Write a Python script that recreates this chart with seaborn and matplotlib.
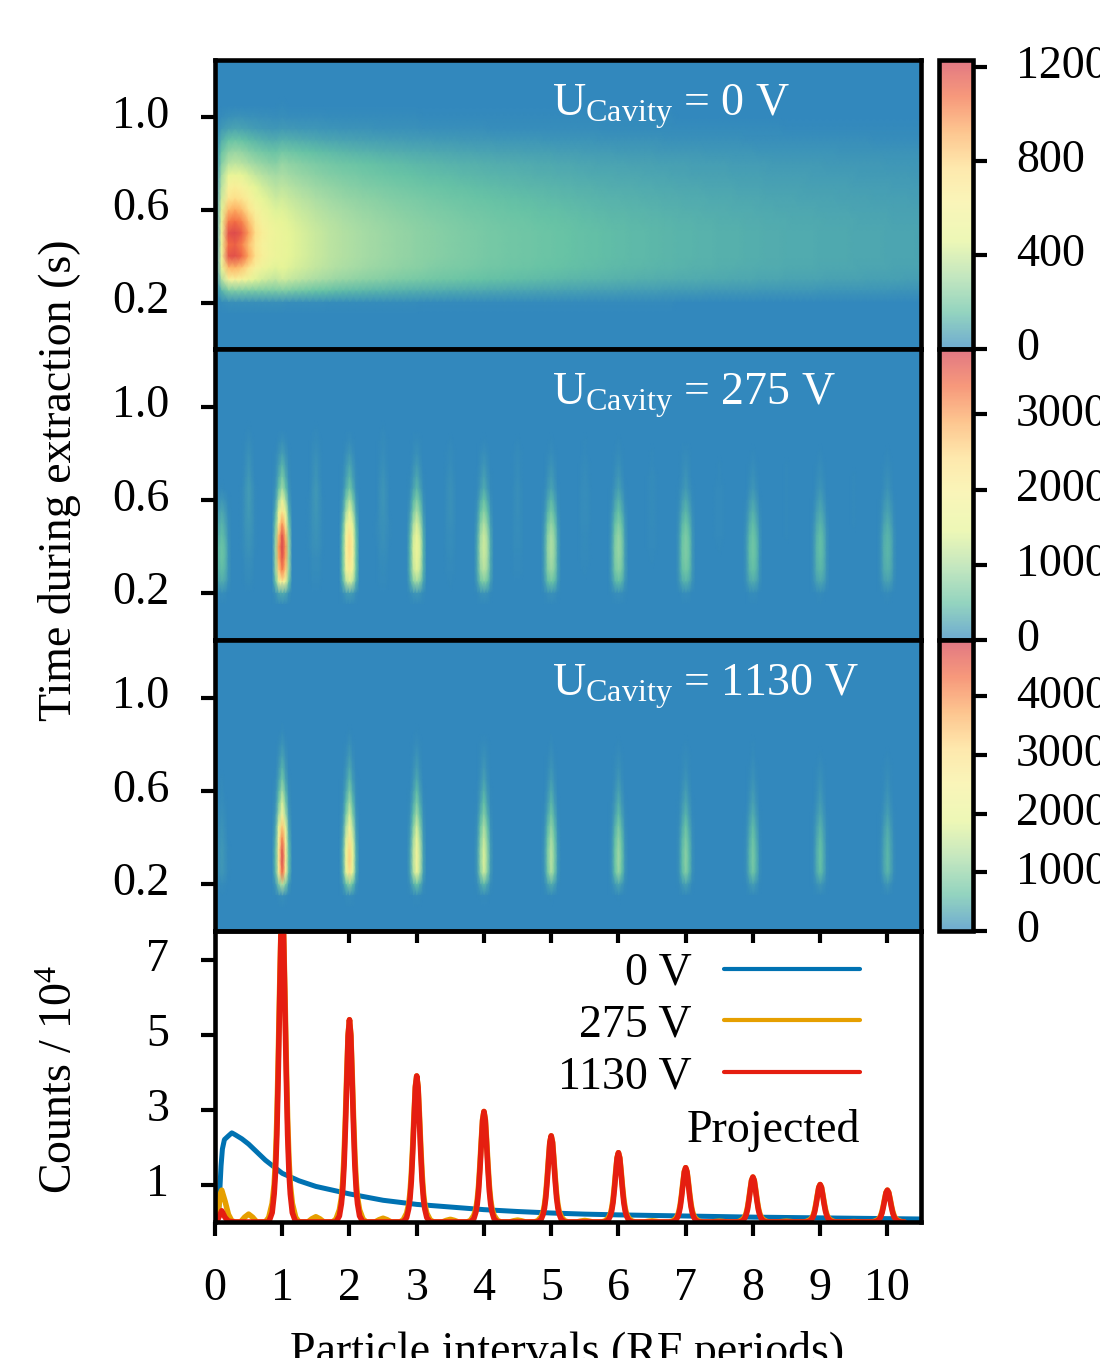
import numpy as np
import matplotlib
matplotlib.use("Agg")
import matplotlib.pyplot as plt
import seaborn as sns
from matplotlib.colors import LinearSegmentedColormap
from matplotlib.transforms import ScaledTranslation

OUTPUT_FILE = "out.png"
FIG_W, FIG_H = 1100, 1358
FONT = 33
LW = 3.3

# heat map grids: rows run from t=1.25 down to t=0 in steps of 0.05
T_STEP = 0.05
T_TOP = 1.25
HEAT_COLORS = ["#3288BD", "#66C2A5", "#ABDDA4", "#E6F598", "#F7F29C",
               "#FEE08B", "#FDAE61", "#F46D43", "#D53E4F"]

# 0 V panel, columns every 0.1 periods
far_time = [0, 0, 0, 0, 0.01, 0.04, 0.10, 0.23, 0.38, 0.53, 0.62, 0.72, 0.81,
            0.89, 0.96, 1, 1, 1, 0.95, 0.80, 0.42, 0.04, 0, 0, 0, 0]
far_x = [0, 0, 0, 0, 0, 0, 0, 0, 0, 0,
         500, 470, 445, 425, 405, 385, 370, 355, 342, 330,
         320, 310, 300, 292, 285, 278, 270, 263, 256, 250,
         244, 238, 232, 227, 222, 217, 212, 208, 204, 200,
         196, 192, 188, 185, 182, 179, 176, 173, 170, 167,
         165, 162, 159, 156, 153, 150, 147, 145, 142, 140,
         138, 136, 134, 132, 130, 128, 126, 124, 122, 120,
         118, 116, 115, 113, 112, 110, 109, 107, 106, 104,
         103, 101, 100, 99, 97, 96, 95, 94, 93, 92,
         91, 90, 89, 88, 87, 86, 85, 84, 83, 82,
         81, 80, 79, 78, 77, 76]
# x = 0 .. 0.9, t = 1.0 .. 0.2
near_table = [
    [0, 15, 25, 30, 30, 28, 25, 22, 20, 18],
    [0, 50, 70, 80, 75, 65, 55, 50, 46, 43],
    [0, 110, 160, 170, 160, 140, 125, 115, 105, 100],
    [0, 170, 250, 270, 255, 230, 205, 190, 175, 165],
    [0, 230, 340, 360, 345, 310, 280, 260, 245, 230],
    [0, 300, 480, 500, 470, 420, 370, 340, 315, 295],
    [0, 350, 620, 650, 610, 530, 460, 410, 375, 345],
    [0, 400, 720, 770, 720, 630, 530, 470, 430, 390],
    [0, 450, 880, 930, 870, 740, 620, 540, 490, 440],
    [0, 500, 1040, 1080, 1020, 870, 710, 600, 540, 490],
    [0, 560, 1160, 1190, 1120, 960, 770, 650, 580, 530],
    [0, 530, 1080, 1110, 1030, 870, 720, 620, 560, 510],
    [0, 560, 1150, 1170, 1100, 930, 760, 640, 570, 520],
    [0, 480, 880, 900, 850, 740, 620, 540, 490, 450],
    [0, 330, 600, 620, 590, 520, 450, 410, 385, 365],
    [0, 120, 200, 210, 205, 200, 200, 200, 200, 200],
    [0, 10, 20, 20, 20, 20, 20, 20, 20, 20],
]

# 275 V panel, columns every 0.05 periods
time_275 = [0, 0, 0, 0, 0, 0, 0, 0, 0.02, 0.05, 0.10, 0.16, 0.24, 0.42, 0.60,
            0.80, 0.97, 1, 0.96, 0.86, 0.55, 0.08, 0, 0, 0, 0]
ghost_275 = [0, 0, 0, 0, 0, 0, 0.05, 0.15, 0.3, 0.45, 0.65, 0.85, 1, 1, 0.9,
             0.8, 0.7, 0.55, 0.4, 0.3, 0.2, 0.03, 0, 0, 0, 0]
strip_275 = [0, 0, 0, 0, 0, 0, 0, 0, 0, 0, 0, 0, 0.05, 0.25, 0.5, 0.7, 0.85, 1,
             1, 0.85, 0.6, 0.1, 0, 0, 0, 0]
side1_275 = [0.5] * 12 + [0.55, 0.6, 0.65, 0.7, 0.75, 0.8, 0.8, 0.8, 0.8,
                          0.8, 0.8, 0.8, 0.8, 0.8]
side2_275 = [0.08] * 12 + [0.1, 0.12, 0.15, 0.18, 0.2, 0.22, 0.22, 0.25, 0.25,
                           0.25, 0.25, 0.25, 0.25, 0.25]
peaks_275 = [3800, 2450, 1650, 1250, 1000, 850, 680, 560, 470, 400]
ghost_x_275 = [0.5, 1.5, 2.5, 3.5, 4.5, 5.5, 6.5, 7.5, 8.5, 9.5]
ghost_h_275 = [170, 140, 110, 85, 70, 55, 40, 30, 25, 20]
strip_x_275 = [0.1]
strip_h_275 = [520]

# 1130 V panel
time_1130 = [0, 0, 0, 0, 0, 0, 0, 0, 0.01, 0.03, 0.06, 0.10, 0.16, 0.25, 0.36,
             0.50, 0.70, 0.85, 0.97, 1, 0.92, 0.30, 0.02, 0, 0, 0]
side1_1130 = [0.38] * 12 + [0.4, 0.42, 0.46, 0.5, 0.54, 0.58, 0.6, 0.6, 0.6,
                            0.6, 0.6, 0.6, 0.6, 0.6]
side2_1130 = [0.03] * 12 + [0.04, 0.05, 0.06, 0.08, 0.09, 0.1, 0.12, 0.12,
                            0.12, 0.12, 0.12, 0.12, 0.12, 0.12]
peaks_1130 = [4800, 3300, 2300, 1750, 1400, 1150, 950, 780, 640, 530]
strip_x_1130 = [0.1]
strip_h_1130 = [180]

vmax_values = [1230, 3870, 4960]
cbar_ticks = [[0, 400, 800, 1200], [0, 1000, 2000, 3000], [0, 1000, 2000, 3000, 4000]]
panel_labels = ["0 V", "275 V", "1130 V"]
time_ticks = [1.0, 0.6, 0.2]

# projected counts / 10^4
pulse_offsets = [-0.25, -0.2, -0.15, -0.12, -0.1, -0.08, -0.06, -0.04, -0.02, 0,
                 0.02, 0.04, 0.06, 0.08, 0.1, 0.12, 0.15, 0.2, 0.25]
red_shape = [0, 0, 0.03, 0.09, 0.16, 0.28, 0.47, 0.7, 0.92, 1,
             0.92, 0.7, 0.47, 0.28, 0.16, 0.09, 0.03, 0, 0]
orange_shape = [0, 0.015, 0.06, 0.12, 0.2, 0.33, 0.52, 0.74, 0.93, 1,
                0.93, 0.74, 0.52, 0.33, 0.2, 0.12, 0.06, 0.015, 0]
peak_heights = [8.3, 5.4, 3.9, 2.95, 2.3, 1.85, 1.45, 1.2, 1.0, 0.85]
bump_offsets = [-0.12, -0.06, 0, 0.06, 0.12]
bump_shape = [0, 0.6, 1, 0.6, 0]
bump_heights = [0.21, 0.14, 0.10, 0.07, 0.05, 0.04, 0.03, 0.02, 0.02, 0.01]
orange_start_x = [0, 0.05, 0.08, 0.1, 0.15, 0.2, 0.25, 0.3]
orange_start_y = [0, 0.3, 0.75, 0.85, 0.55, 0.2, 0.03, 0]
red_start_x = [0, 0.05, 0.1, 0.15, 0.2, 0.3]
red_start_y = [0, 0.1, 0.3, 0.12, 0.02, 0]
blue_x = [0, 0.05, 0.07, 0.09, 0.11, 0.14, 0.2, 0.25, 0.3, 0.4, 0.5, 0.75, 1, 1.25,
          1.5, 2, 2.5, 3, 3.5, 4, 4.5, 5, 5.5, 6, 7, 8, 9, 10, 10.5]
blue_y = [0, 0.1, 0.8, 1.5, 1.95, 2.2, 2.3, 2.38, 2.33, 2.22, 2.08, 1.65, 1.3, 1.1,
          0.95, 0.75, 0.58, 0.47, 0.4, 0.33, 0.28, 0.24, 0.21, 0.19, 0.16, 0.13,
          0.11, 0.09, 0.08]
count_ticks = [1, 3, 5, 7]
interval_ticks = list(range(0, 11))


def px_axes(fig, left, top, right, bottom):
    return fig.add_axes([left / FIG_W, 1 - bottom / FIG_H,
                         (right - left) / FIG_W, (bottom - top) / FIG_H])


def pulse_matrix(peaks, time_rows, side1, side2, extras):
    mat = np.zeros((len(time_rows), 211))
    time_rows = np.array(time_rows)
    s1 = np.array(side1)
    s2 = np.array(side2)
    items = [(i + 1.0, h, time_rows) for i, h in enumerate(peaks)]
    for xs, hs, rows in extras:
        items += [(x, h, np.array(rows)) for x, h in zip(xs, hs)]
    for x, h, rows in items:
        c = int(round(x / 0.05))
        mat[:, c] += h * rows
        mat[:, c - 1] += h * rows * s1
        mat[:, c + 1] += h * rows * s1
        if c >= 2:
            mat[:, c - 2] += h * rows * s2
        mat[:, c + 2] += h * rows * s2
    return mat


def pulse_train(shape, heights):
    xs, ys = [], []
    for i, h in enumerate(heights):
        xs.extend(i + 1 + o for o in pulse_offsets)
        ys.extend(h * s for s in shape)
    return xs, ys


def add_bumps(xs, ys):
    for i, h in enumerate(bump_heights):
        xs.extend(i + 0.5 + o for o in bump_offsets)
        ys.extend(h * s for s in bump_shape)
    order = np.argsort(xs)
    return np.array(xs)[order], np.array(ys)[order]


def style_frame(ax):
    for s in ax.spines.values():
        s.set_visible(True)
        s.set_linewidth(LW)
        s.set_color("black")


def nudge_labels(labels, fig, dx=0, dy=0):
    shift = ScaledTranslation(dx / 100, dy / 100, fig.dpi_scale_trans)
    for lab in labels:
        lab.set_transform(lab.get_transform() + shift)


sns.set_theme(style="ticks")
plt.rcParams["font.family"] = ["Liberation Serif"]
plt.rcParams["mathtext.fontset"] = "custom"
plt.rcParams["mathtext.rm"] = "Liberation Serif"
plt.rcParams["mathtext.default"] = "regular"
for key in ["text.color", "axes.labelcolor", "xtick.color", "ytick.color"]:
    plt.rcParams[key] = "black"

cmap = LinearSegmentedColormap.from_list("heat", HEAT_COLORS)

panel0 = np.outer(far_time, far_x)
panel0[5:22, :10] = near_table
panel1 = pulse_matrix(peaks_275, time_275, side1_275, side2_275,
                      [(ghost_x_275, ghost_h_275, ghost_275),
                       (strip_x_275, strip_h_275, strip_275)])
panel2 = pulse_matrix(peaks_1130, time_1130, side1_1130, side2_1130,
                      [(strip_x_1130, strip_h_1130, time_1130)])
panels = [panel0, panel1, panel2]

fig = plt.figure(figsize=(FIG_W / 100, FIG_H / 100), dpi=100, facecolor="white")

edges = [59.5, 349, 640, 931, 1222]
for i, mat in enumerate(panels):
    ax = px_axes(fig, 215, edges[i], 921, edges[i + 1])
    cax = px_axes(fig, 939, edges[i], 973, edges[i + 1])
    sns.heatmap(mat, ax=ax, cbar_ax=cax, cmap=cmap, vmin=0, vmax=vmax_values[i],
                xticklabels=False, yticklabels=False, shading="gouraud",
                cbar_kws={"ticks": cbar_ticks[i]})
    ax.set_xlim(0, mat.shape[1] - 1)
    ax.set_ylim(mat.shape[0] - 1, 0)
    ax.set_xticks([])
    ax.set_yticks([(T_TOP - t) / T_STEP for t in time_ticks])
    ax.set_yticklabels([f"{t:.1f}" for t in time_ticks], rotation=0)
    ax.tick_params(axis="y", length=10, width=3, pad=23, labelsize=FONT, color="black")
    style_frame(ax)
    nudge_labels(ax.get_yticklabels(), fig, dy=6)
    ax.text(0.477, 0.838, r"U$_{Cavity}$ = " + panel_labels[i], transform=ax.transAxes,
            color="white", fontsize=FONT, va="center", ha="left")

    cb = ax.collections[0].colorbar
    cb.solids.set_alpha(0.7)
    cb.outline.set_linewidth(LW)
    cb.outline.set_edgecolor("black")
    cb.ax.tick_params(length=10, width=3, pad=21, labelsize=FONT, color="black")
    nudge_labels(cb.ax.get_yticklabels(), fig, dy=5)

ax = px_axes(fig, 215, edges[3], 921, edges[4])
rx, ry = pulse_train(red_shape, peak_heights)
red_x = np.array(red_start_x + rx)
red_y = np.array(red_start_y + ry)
ox, oy = pulse_train(orange_shape, peak_heights)
orange_x, orange_y = add_bumps(orange_start_x + ox, orange_start_y + oy)

sns.lineplot(x=blue_x, y=blue_y, ax=ax, color="#0072B2", linewidth=3.6, label="0 V",
             estimator=None, sort=False)
sns.lineplot(x=orange_x, y=orange_y, ax=ax, color="#E69F00", linewidth=4, label="275 V",
             estimator=None, sort=False)
sns.lineplot(x=red_x, y=red_y, ax=ax, color="#E51E10", linewidth=4, label="1130 V",
             estimator=None, sort=False)
ax.set_xlim(0, 10.5)
ax.set_ylim(0, 7.77)
ax.set_xticks(interval_ticks)
ax.set_yticks(count_ticks)
ax.tick_params(axis="both", length=10, width=3, pad=20, labelsize=FONT, color="black")
ax.tick_params(axis="x", pad=23)
ax.tick_params(axis="y", pad=23)
style_frame(ax)
nudge_labels(ax.get_yticklabels(), fig, dy=5)

top = ax.secondary_xaxis("top")
top.set_xticks(interval_ticks[1:])
top.tick_params(direction="in", length=8.5, width=3, labeltop=False, color="black")
top.spines["top"].set_linewidth(LW)

leg = ax.legend(loc="upper right", bbox_to_anchor=(0.913, 0.927), frameon=False, fontsize=FONT,
                markerfirst=False, handlelength=2.95, handletextpad=0.72, labelspacing=0.2,
                borderaxespad=0, borderpad=0)
for line in leg.get_lines():
    line.set_linewidth(3)
ax.text(0.913, 0.315, "Projected", transform=ax.transAxes, fontsize=FONT,
        ha="right", va="center")

fig.text(60 / FIG_W, 1 - 480 / FIG_H, "Time during extraction (s)", rotation=90,
         fontsize=FONT, ha="center", va="center")
fig.text(61 / FIG_W, 1 - 1079 / FIG_H, "Counts / 10$^{4}$", rotation=90,
         fontsize=FONT, ha="center", va="center")
fig.text(567 / FIG_W, 1 - 1352 / FIG_H, "Particle intervals (RF periods)",
         fontsize=FONT, ha="center", va="center")

fig.savefig(OUTPUT_FILE, dpi=100)
